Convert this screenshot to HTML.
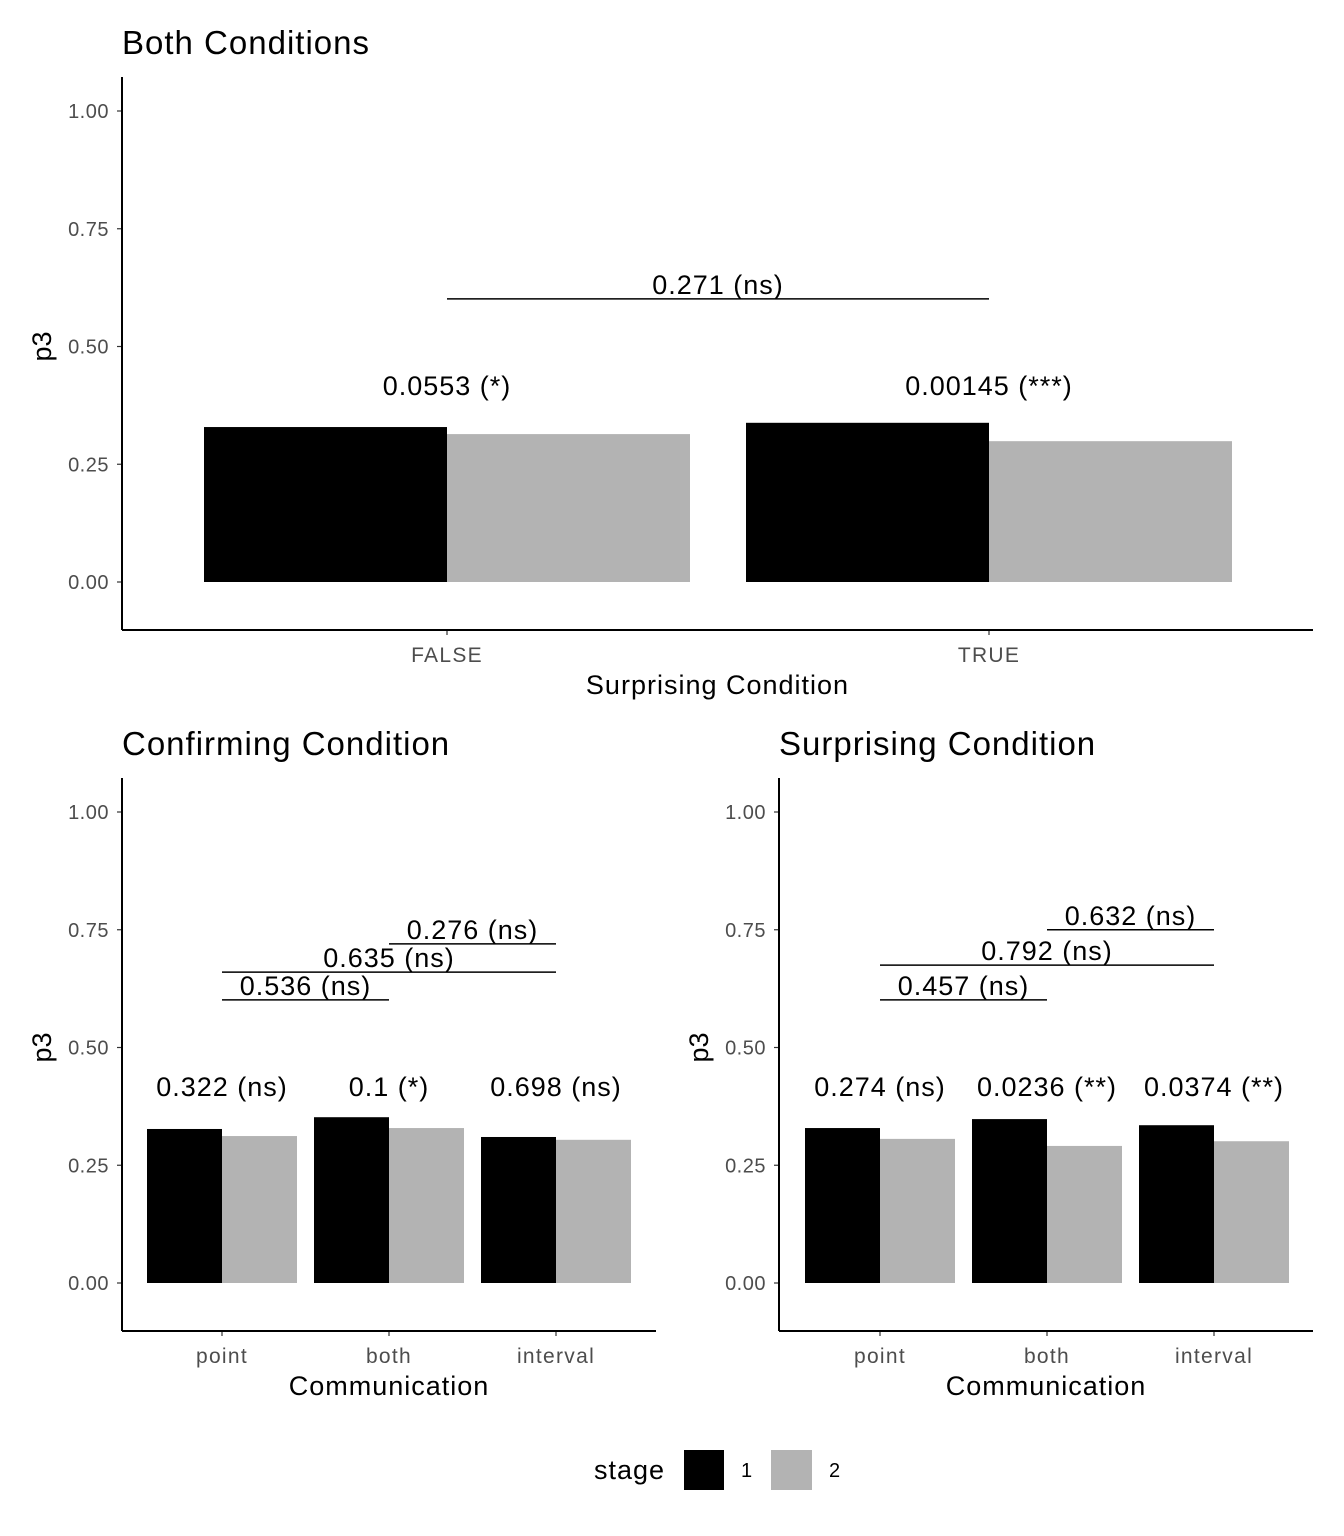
<!DOCTYPE html>
<html><head><meta charset="utf-8">
<style>
html,body{margin:0;padding:0;background:#fff;}
svg{display:block;font-family:"Liberation Sans",Arial,sans-serif;}
</style></head>
<body>
<svg id="chart" width="1344" height="1536" viewBox="0 0 1344 1536" xmlns="http://www.w3.org/2000/svg"></svg>
<script>
// ---- data ----
const yTicks = [0, 0.25, 0.5, 0.75, 1.0];
const yTickLabels = ["0.00", "0.25", "0.50", "0.75", "1.00"];

const topCategories = ["FALSE", "TRUE"];
const topStage1 = [0.329, 0.338];
const topStage2 = [0.314, 0.299];
const topPairLabels = ["0.0553 (*)", "0.00145 (***)"];
const topBrackets = [[0, 1, 0.601, "0.271 (ns)"]];

const confCategories = ["point", "both", "interval"];
const confStage1 = [0.327, 0.352, 0.310];
const confStage2 = [0.312, 0.329, 0.304];
const confPairLabels = ["0.322 (ns)", "0.1 (*)", "0.698 (ns)"];
const confBrackets = [[0, 1, 0.601, "0.536 (ns)"], [0, 2, 0.660, "0.635 (ns)"], [1, 2, 0.720, "0.276 (ns)"]];

const surpCategories = ["point", "both", "interval"];
const surpStage1 = [0.329, 0.348, 0.335];
const surpStage2 = [0.306, 0.291, 0.301];
const surpPairLabels = ["0.274 (ns)", "0.0236 (**)", "0.0374 (**)"];
const surpBrackets = [[0, 1, 0.601, "0.457 (ns)"], [0, 2, 0.675, "0.792 (ns)"], [1, 2, 0.750, "0.632 (ns)"]];

const labelY = 0.418;

const svg = document.getElementById('chart');
const NS = 'http://www.w3.org/2000/svg';
function mk(tag, attrs, parent, text) {
  const e = document.createElementNS(NS, tag);
  for (const k in attrs) e.setAttribute(k, attrs[k]);
  if (text !== undefined) e.textContent = text;
  (parent || svg).appendChild(e);
  return e;
}

function panel(o) {
  const g = mk('g', {});
  
  
  const y = v => o.y0 - v * (o.y0 - o.y1);
  const cx = i => o.cx0 + i * o.dx;
  const half = o.barW;
  let t = mk('text', {x: o.axisX, y: o.titleY, 'font-size': 33, 'letter-spacing': 1, fill: '#000'}, g, o.title);
  
  
  o.cats.forEach((c, i) => {
    let b1 = mk('rect', {x: cx(i) - half, y: y(o.s1[i]), width: half, height: y(0) - y(o.s1[i]), fill: '#000'}, g);
    
    
    let b2 = mk('rect', {x: cx(i), y: y(o.s2[i]), width: half, height: y(0) - y(o.s2[i]), fill: '#b3b3b3'}, g);
    
    
    let pl = mk('text', {x: cx(i), y: y(labelY) + 10, 'font-size': 27, 'letter-spacing': 1, 'text-anchor': 'middle'}, g, o.pl[i]);
    
    
    mk('line', {x1: cx(i), x2: cx(i), y1: o.y0axis, y2: o.y0axis + 5, stroke: '#333', 'stroke-width': 1.2}, g);
    let xl = mk('text', {x: cx(i), y: o.y0axis + 32, 'font-size': 21, 'letter-spacing': 1.3, fill: '#4d4d4d', 'text-anchor': 'middle'}, g, c);
    
    
  });
  o.br.forEach(b => {
    let ln = mk('line', {x1: cx(b[0]), x2: cx(b[1]), y1: y(b[2]), y2: y(b[2]), stroke: '#000', 'stroke-width': 1.5}, g);
    
    
    let bt = mk('text', {x: (cx(b[0]) + cx(b[1])) / 2, y: y(b[2]) - 5, 'font-size': 27, 'letter-spacing': 1, 'text-anchor': 'middle'}, g, b[3]);
    
    
  });
  yTicks.forEach((v, i) => {
    mk('line', {x1: o.axisX - 5, x2: o.axisX, y1: y(v), y2: y(v), stroke: '#333', 'stroke-width': 1.2}, g);
    let tl = mk('text', {x: o.axisX - 13, y: y(v) + 7, 'font-size': 20, 'letter-spacing': 0.5, fill: '#4d4d4d', 'text-anchor': 'end'}, g, yTickLabels[i]);
    
    
  });
  mk('line', {x1: o.axisX, x2: o.axisX, y1: o.axisTop, y2: o.y0axis, stroke: '#000', 'stroke-width': 2}, g);
  mk('line', {x1: o.axisX, x2: o.xRight, y1: o.y0axis, y2: o.y0axis, stroke: '#000', 'stroke-width': 2}, g);
  let yt = mk('text', {x: 0, y: 0, 'font-size': 27, 'text-anchor': 'middle', transform: `translate(${o.axisX - 71},${y(0.5)}) rotate(-90)`}, g, 'p3');
  
  
  let xt = mk('text', {x: (o.axisX + o.xRight) / 2, y: o.y0axis + 64, 'font-size': 27, 'letter-spacing': 1, 'text-anchor': 'middle'}, g, o.xTitle);
  
  
}

panel({name: 'panel-both-conditions', title: 'Both Conditions', titleY: 54, cats: topCategories, s1: topStage1, s2: topStage2, pl: topPairLabels, br: topBrackets,
  axisX: 122, xRight: 1313, y0: 582, y1: 111, y0axis: 630, axisTop: 77, cx0: 447, dx: 542, barW: 243, xTitle: 'Surprising Condition'});
panel({name: 'panel-confirming', title: 'Confirming Condition', titleY: 755, cats: confCategories, s1: confStage1, s2: confStage2, pl: confPairLabels, br: confBrackets,
  axisX: 122, xRight: 656, y0: 1283, y1: 812, y0axis: 1331, axisTop: 778, cx0: 222, dx: 167, barW: 75, xTitle: 'Communication'});
panel({name: 'panel-surprising', title: 'Surprising Condition', titleY: 755, cats: surpCategories, s1: surpStage1, s2: surpStage2, pl: surpPairLabels, br: surpBrackets,
  axisX: 779, xRight: 1313, y0: 1283, y1: 812, y0axis: 1331, axisTop: 778, cx0: 880, dx: 167, barW: 75, xTitle: 'Communication'});

const lg = mk('g', {});


let lt = mk('text', {x: 594, y: 1479, 'font-size': 27, 'letter-spacing': 1}, lg, 'stage');


let k1 = mk('rect', {x: 684, y: 1450, width: 40, height: 40, fill: '#000'}, lg);


let l1 = mk('text', {x: 741, y: 1477, 'font-size': 20}, lg, '1');


let k2 = mk('rect', {x: 771, y: 1450, width: 41, height: 40, fill: '#b3b3b3'}, lg);


let l2 = mk('text', {x: 829, y: 1477, 'font-size': 20}, lg, '2');


</script>
</body></html>
